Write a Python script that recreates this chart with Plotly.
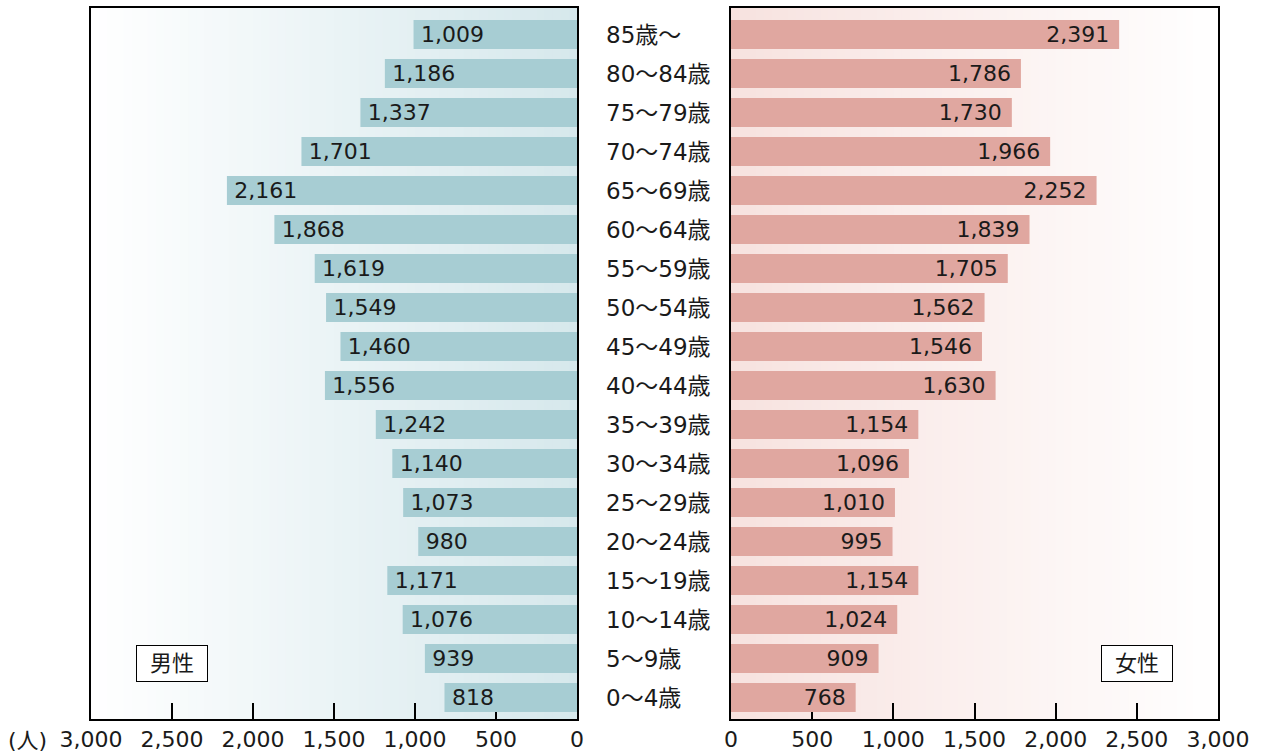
import plotly.graph_objects as go

categories = ["85歳〜", "80〜84歳", "75〜79歳", "70〜74歳", "65〜69歳", "60〜64歳",
              "55〜59歳", "50〜54歳", "45〜49歳", "40〜44歳", "35〜39歳", "30〜34歳",
              "25〜29歳", "20〜24歳", "15〜19歳", "10〜14歳", "5〜9歳", "0〜4歳"]
male = [1009, 1186, 1337, 1701, 2161, 1868, 1619, 1549, 1460, 1556,
        1242, 1140, 1073, 980, 1171, 1076, 939, 818]
female = [2391, 1786, 1730, 1966, 2252, 1839, 1705, 1562, 1546, 1630,
          1154, 1096, 1010, 995, 1154, 1024, 909, 768]
tick_vals = [0, 500, 1000, 1500, 2000, 2500, 3000]
tick_text = ["0", "500", "1,000", "1,500", "2,000", "2,500", "3,000"]

FONT = "DejaVu Sans, Noto Sans CJK JP, sans-serif"
FS = 22
TXT = "#1a1a1a"
W, H = 1266, 755
MT, MB = 8, 36
PH = H - MT - MB
MALE_C = "#a7cdd3"
FEMALE_C = "#e0a7a0"

fig = go.Figure()
fig.add_trace(go.Bar(
    y=categories, x=male, orientation="h", xaxis="x", yaxis="y",
    marker=dict(color=MALE_C, line=dict(width=0)), width=0.74,
    text=["\u2009" + f"{v:,}" for v in male], textposition="inside", insidetextanchor="end",
    textangle=0, constraintext="none",
    textfont=dict(family=FONT, size=FS, color=TXT), hoverinfo="skip",
))
fig.add_trace(go.Bar(
    y=categories, x=female, orientation="h", xaxis="x2", yaxis="y2",
    marker=dict(color=FEMALE_C, line=dict(width=0)), width=0.74,
    text=[f"{v:,}" + "\u00a0" for v in female], textposition="inside", insidetextanchor="end",
    textangle=0, constraintext="none",
    textfont=dict(family=FONT, size=FS, color=TXT), hoverinfo="skip",
))

xl = (91 / W, 577 / W)
xr = (731 / W, 1218 / W)
yr = [17.55, -0.68]

axis_common = dict(showgrid=False, zeroline=False, showline=True, linecolor="black",
                   linewidth=2, mirror=True, ticks="inside", ticklen=16, tickwidth=2,
                   tickcolor="black", tickvals=tick_vals, ticktext=tick_text,
                   tickfont=dict(family=FONT, size=FS, color=TXT),
                   automargin=False, layer="below traces")
yaxis_common = dict(showgrid=False, zeroline=False, showline=True, linecolor="black",
                    linewidth=2, mirror=True, showticklabels=False, ticks="",
                    categoryorder="array", categoryarray=categories, range=yr,
                    automargin=False, layer="above traces")

fig.update_layout(
    width=W, height=H, margin=dict(l=0, r=0, t=MT, b=MB, autoexpand=False),
    paper_bgcolor="white", plot_bgcolor="white", showlegend=False,
    font=dict(family=FONT, size=FS, color=TXT),
    xaxis=dict(domain=list(xl), range=[3000, 0], anchor="y", **axis_common),
    xaxis2=dict(domain=list(xr), range=[0, 3000], anchor="y2", **axis_common),
    yaxis=dict(domain=[0, 1], anchor="x", **yaxis_common),
    yaxis2=dict(domain=[0, 1], anchor="x2", **yaxis_common),
)

# gradient backgrounds
def lerp(c1, c2, t):
    return "rgb(%d,%d,%d)" % tuple(round(a + (b - a) * t) for a, b in zip(c1, c2))

N = 60
shapes = []
for i in range(N):
    t = (i + 0.5) / N
    shapes.append(dict(type="rect", xref="x domain", yref="y domain", layer="below",
                       x0=i / N, x1=(i + 1) / N + 0.002, y0=0, y1=1, line=dict(width=0),
                       fillcolor=lerp((255, 255, 255), (214, 232, 236), t)))
    shapes.append(dict(type="rect", xref="x2 domain", yref="y2 domain", layer="below",
                       x0=i / N, x1=(i + 1) / N + 0.002, y0=0, y1=1, line=dict(width=0),
                       fillcolor=lerp((247, 226, 223), (255, 255, 255), t)))
fig.update_layout(shapes=shapes)

annotations = []
for c in categories:
    annotations.append(dict(x=604 / W, xref="paper", xanchor="left", y=c, yref="y",
                            yanchor="middle", text=c, showarrow=False,
                            font=dict(family=FONT, size=23, color=TXT)))
for label, cx in (("男性", 172), ("女性", 1137)):
    annotations.append(dict(x=cx / W, xref="paper", xanchor="center",
                            y=(H - MB - 663) / PH, yref="paper", yanchor="middle",
                            text=label, showarrow=False, bgcolor="white",
                            bordercolor="black", borderwidth=1, borderpad=1,
                            width=68, height=33,
                            font=dict(family=FONT, size=FS, color=TXT)))
annotations.append(dict(x=6 / W, xref="paper", xanchor="left", y=-21 / PH, yref="paper",
                        yanchor="middle", text="(人)", showarrow=False,
                        font=dict(family=FONT, size=FS, color=TXT)))
fig.update_layout(annotations=annotations)

fig.write_html("out.html")
